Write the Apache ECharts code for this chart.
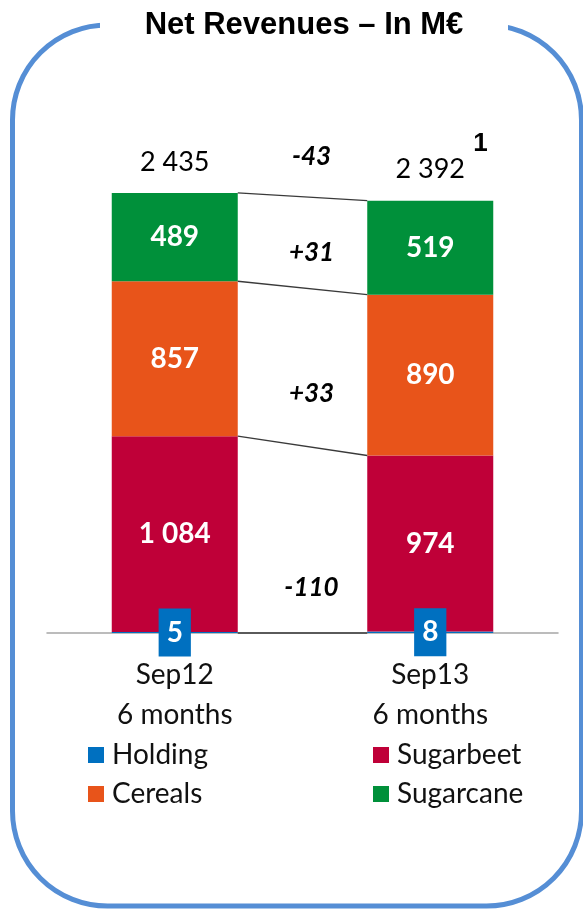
<!DOCTYPE html>
<html lang="en">
<head>
<meta charset="UTF-8">
<title>Net Revenues – In M€</title>
<script src="https://cdn.jsdelivr.net/npm/echarts@6/dist/echarts.min.js"></script>
<style>
  html, body { margin: 0; padding: 0; background: #ffffff; }
  #chart { width: 583px; height: 910px; }
</style>
</head>
<body>
<div id="chart"></div>
<script>
// data (M€)
const categories = ['Sep12\n6 months', 'Sep13\n6 months'];
const holding = [5, 8];
const sugarbeet = [1084, 974];
const cereals = [857, 890];
const sugarcane = [489, 519];
const totals = [2435, 2392];
const variations = [-43, 31, 33, -110];   // total, sugarcane, cereals, sugarbeet
const footnotes = ['', '1'];

// layout
const BAR_W = 126;
const FONT = 'Lato, "Open Sans", sans-serif';
const COLORS = { holding: '#0070C0', sugarbeet: '#BF0038', cereals: '#E8541A', sugarcane: '#00903A' };
// where each variation label sits inside its band between the two bars (0 = bottom, 1 = top)
const bandPos = [null, 0.39, 0.33, 0.24];

const fmt = v => String(v).replace(/\B(?=(\d{3})+(?!\d))/g, ' ');
const signed = v => (v > 0 ? '+' : '') + v;

// segment boundaries of each bar, from top to bottom
const bounds = [0, 1].map(i => [
  totals[i],
  holding[i] + sugarbeet[i] + cereals[i],
  holding[i] + sugarbeet[i],
  0
]);
const connectors = bounds[0].map((b, k) => [k, b, bounds[1][k]]);

const chart = echarts.init(document.getElementById('chart'));

function segLabel(size) {
  return {
    show: true, position: 'inside', color: '#ffffff',
    fontFamily: FONT, fontWeight: 'bold', fontSize: size,
    formatter: p => fmt(p.value)
  };
}

const legendText = { fontFamily: FONT, fontSize: 28, color: '#111', lineHeight: 26, padding: [0, 0, 0, 3] };

const option = {
  animation: false,
  grid: { left: 47, right: 25, top: 145, bottom: 277 },
  xAxis: {
    type: 'category',
    data: categories,
    axisLine: { lineStyle: { color: '#A6A6A6', width: 1.5 } },
    axisTick: { show: false },
    axisLabel: { color: '#111', fontFamily: FONT, fontSize: 28, lineHeight: 40, margin: 22 }
  },
  yAxis: { type: 'value', min: 0, max: 2700, show: false, splitLine: { show: false } },
  legend: [
    {
      data: ['Holding', 'Cereals'], left: 83, top: 736, orient: 'vertical',
      icon: 'rect', itemWidth: 16, itemHeight: 16, itemGap: 11, textStyle: legendText
    },
    {
      data: ['Sugarbeet', 'Sugarcane'], left: 368, top: 736, orient: 'vertical',
      icon: 'rect', itemWidth: 16, itemHeight: 16, itemGap: 11, textStyle: legendText
    }
  ],
  graphic: [
    {
      type: 'rect', z: 0,
      shape: { x: 12.5, y: 25, width: 569, height: 881, r: 95 },
      style: { fill: 'none', stroke: '#558ED5', lineWidth: 5 }
    },
    {
      type: 'rect', z: 1,
      shape: { x: 100, y: 8, width: 408, height: 34 },
      style: { fill: '#ffffff' }
    },
    {
      type: 'text', z: 2, x: 304, y: 25,
      style: {
        text: 'Net Revenues – In M€', fill: '#000',
        font: 'bold 31px "Liberation Sans", Arial, sans-serif',
        textAlign: 'center', textVerticalAlign: 'middle'
      }
    }
  ],
  series: [
    {
      name: 'Holding', type: 'bar', stack: 'rev', barWidth: BAR_W, data: holding,
      itemStyle: { color: COLORS.holding },
      label: Object.assign(segLabel(28), {
        backgroundColor: COLORS.holding, lineHeight: 34, padding: [7, 8, 7, 8]
      })
    },
    {
      name: 'Sugarbeet', type: 'bar', stack: 'rev', barWidth: BAR_W, data: sugarbeet,
      itemStyle: { color: COLORS.sugarbeet }, label: segLabel(28)
    },
    {
      name: 'Cereals', type: 'bar', stack: 'rev', barWidth: BAR_W, data: cereals,
      itemStyle: { color: COLORS.cereals }, label: segLabel(28)
    },
    {
      name: 'Sugarcane', type: 'bar', stack: 'rev', barWidth: BAR_W, data: sugarcane,
      itemStyle: { color: COLORS.sugarcane }, label: segLabel(28)
    },
    {
      // connector lines between the two bars
      name: 'links', type: 'custom', silent: true, z: 3,
      data: connectors,
      renderItem: function (params, api) {
        const a = api.coord([0, api.value(1)]);
        const b = api.coord([1, api.value(2)]);
        return {
          type: 'line',
          shape: { x1: a[0] + BAR_W / 2, y1: a[1], x2: b[0] - BAR_W / 2, y2: b[1] },
          style: { stroke: '#3a3a3a', lineWidth: 1.4 }
        };
      }
    },
    {
      // variation labels in the gap
      name: 'variations', type: 'custom', silent: true, z: 4,
      data: variations.map((v, k) => [k, v]),
      renderItem: function (params, api) {
        const k = api.value(0);
        const top = connectors[k];
        const a = api.coord([0, top[1]]);
        const b = api.coord([1, top[2]]);
        const x = (a[0] + b[0]) / 2 + 9;
        let y;
        if (k === 0) {
          y = Math.min(a[1], b[1]) - 36;
        } else {
          const hi = connectors[k - 1];
          const yTop = (api.coord([0, hi[1]])[1] + api.coord([1, hi[2]])[1]) / 2;
          const yBot = (a[1] + b[1]) / 2;
          y = yBot + (yTop - yBot) * bandPos[k];
        }
        return {
          type: 'text', x: x, y: y,
          style: {
            text: signed(api.value(1)), fill: '#000',
            fontFamily: FONT, fontStyle: 'italic', fontWeight: 'bold', fontSize: 26,
            textAlign: 'center', textVerticalAlign: 'middle'
          }
        };
      }
    },
    {
      // totals above each bar
      name: 'totals', type: 'custom', silent: true, z: 4,
      data: totals.map((t, i) => [i, t]),
      renderItem: function (params, api) {
        const i = api.value(0);
        const p = api.coord([i, api.value(1)]);
        const children = [{
          type: 'text', x: p[0], y: p[1] - 31,
          style: {
            text: fmt(api.value(1)), fill: '#000',
            fontFamily: FONT, fontSize: 27,
            textAlign: 'center', textVerticalAlign: 'middle'
          }
        }];
        if (footnotes[i]) {
          children.push({
            type: 'text', x: p[0] + 43, y: p[1] - 57,
            style: {
              text: footnotes[i], fill: '#000',
              font: 'bold 26px "Liberation Sans", Arial, sans-serif',
              textAlign: 'left', textVerticalAlign: 'middle'
            }
          });
        }
        return { type: 'group', children: children };
      }
    }
  ]
};

chart.setOption(option);
</script>
</body>
</html>
